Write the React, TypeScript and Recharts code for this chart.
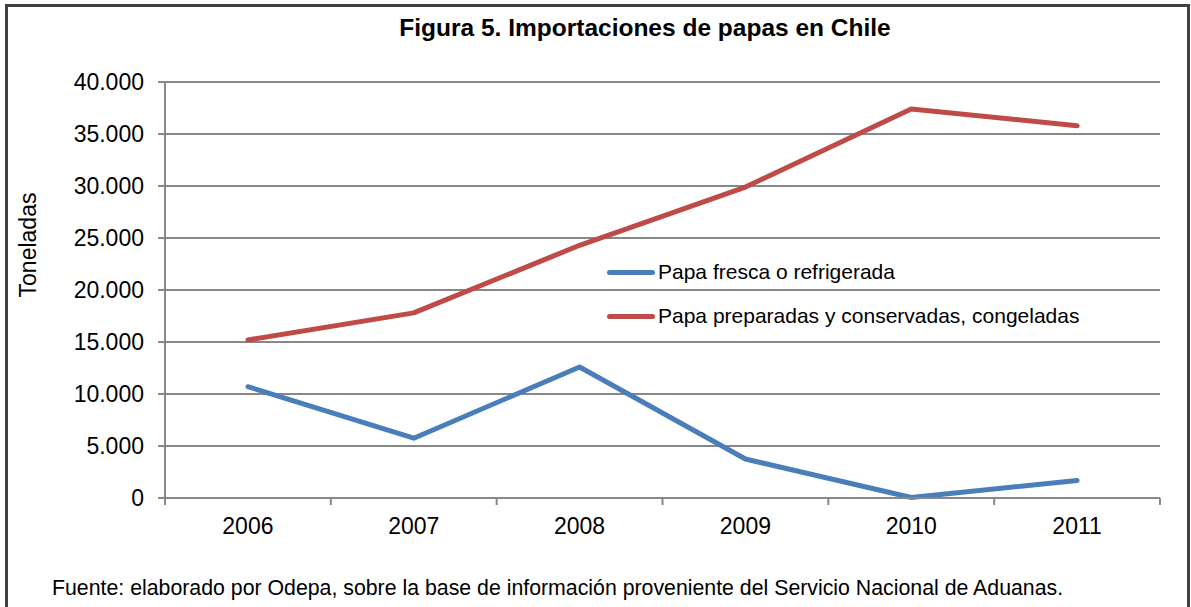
import { LineChart, Line, XAxis, YAxis, CartesianGrid } from 'recharts';

const years = ['2006', '2007', '2008', '2009', '2010', '2011'];
const papaFresca = [10700, 5750, 12600, 3750, 50, 1680];
const papaCongelada = [15200, 17800, 24300, 29900, 37400, 35800];
const yTicks = [0, 5000, 10000, 15000, 20000, 25000, 30000, 35000, 40000];

const SERIES = [
  { key: 'fresca', name: 'Papa fresca o refrigerada', color: '#4A7EBB' },
  { key: 'congelada', name: 'Papa preparadas y conservadas, congeladas', color: '#BE4B48' },
];

const data = years.map((y, i) => ({
  year: y,
  fresca: papaFresca[i],
  congelada: papaCongelada[i],
}));

const W = 1191;
const H = 607;
const PLOT_LEFT = 165;
const PLOT_RIGHT = 1160;
const PLOT_TOP = 82;
const PLOT_BOTTOM = 498;
const PLOT_W = PLOT_RIGHT - PLOT_LEFT;
const HALF_STEP = PLOT_W / years.length / 2;
const FONT = '"Liberation Sans", Arial, sans-serif';
const GRID = '#888888';
const FRAME = '#404040';

const formatMiles = (v: number): string =>
  String(v).replace(/\B(?=(\d{3})+(?!\d))/g, '.');

const XTick = (props: any) => {
  const { x, y, payload, index } = props;
  const last = index === years.length - 1;
  return (
    <g>
      <line x1={x - HALF_STEP} x2={x - HALF_STEP} y1={y} y2={y + 7} stroke={GRID} strokeWidth={2} />
      {last && (
        <line x1={x + HALF_STEP} x2={x + HALF_STEP} y1={y} y2={y + 7} stroke={GRID} strokeWidth={2} />
      )}
      <text x={x} y={y + 36} textAnchor="middle" fill="#000" fontSize={23} fontFamily={FONT}>
        {payload.value}
      </text>
    </g>
  );
};

export default function App() {
  return (
    <div
      style={{
        position: 'fixed',
        left: 0,
        top: 0,
        width: W,
        height: H,
        overflow: 'hidden',
        background: '#fff',
        fontFamily: FONT,
      }}
    >
      <div
        style={{
          position: 'absolute',
          left: 0,
          width: 1290,
          top: 14,
          textAlign: 'center',
          fontSize: 24.5,
          fontWeight: 'bold',
          color: '#000',
          lineHeight: '28px',
        }}
      >
        Figura 5. Importaciones de papas en Chile
      </div>
      <div
        style={{
          position: 'absolute',
          left: 28,
          top: 245,
          transform: 'translate(-50%, -50%) rotate(-90deg)',
          fontSize: 23,
          color: '#000',
          whiteSpace: 'nowrap',
        }}
      >
        Toneladas
      </div>
      <div
        style={{
          position: 'absolute',
          left: 52,
          top: 576,
          fontSize: 21.3,
          color: '#000',
          whiteSpace: 'nowrap',
        }}
      >
        Fuente: elaborado por Odepa, sobre la base de información proveniente del Servicio Nacional de Aduanas.
      </div>
      <div style={{ position: 'absolute', left: 0, top: 0 }}>
        <LineChart
          width={W}
          height={H}
          data={data}
          margin={{ top: PLOT_TOP, right: W - PLOT_RIGHT, bottom: H - PLOT_BOTTOM - 40, left: PLOT_LEFT - 80 }}
        >
          <CartesianGrid vertical={false} stroke={GRID} strokeWidth={2} />
          <XAxis
            dataKey="year"
            height={40}
            padding={{ left: HALF_STEP, right: HALF_STEP }}
            axisLine={{ stroke: GRID, strokeWidth: 2 }}
            tickLine={false}
            tickSize={0}
            tickMargin={0}
            tick={<XTick />}
            interval={0}
          />
          <YAxis
            width={80}
            domain={[0, 40000]}
            ticks={yTicks}
            interval={0}
            tickFormatter={formatMiles}
            axisLine={{ stroke: GRID, strokeWidth: 2 }}
            tickLine={{ stroke: GRID, strokeWidth: 2 }}
            tickSize={7}
            tickMargin={14}
            tick={{ fill: '#000', fontSize: 23, fontFamily: FONT }}
          />
          {SERIES.map(s => (
            <Line
              key={s.key}
              type="linear"
              dataKey={s.key}
              name={s.name}
              stroke={s.color}
              strokeWidth={5}
              strokeLinecap="round"
              strokeLinejoin="round"
              dot={false}
              activeDot={false}
              isAnimationActive={false}
            />
          ))}
        </LineChart>
      </div>
      {/* Leyenda */}
      <div style={{ position: 'absolute', left: 607, top: 250, fontSize: 21, color: '#000' }}>
        {SERIES.map(s => (
          <div key={s.key} style={{ display: 'flex', alignItems: 'center', height: 44 }}>
            <span
              style={{
                width: 48,
                height: 5,
                borderRadius: 3,
                background: s.color,
                marginRight: 3,
                flexShrink: 0,
              }}
            />
            <span style={{ whiteSpace: 'nowrap' }}>{s.name}</span>
          </div>
        ))}
      </div>
      {/* marco exterior */}
      <div style={{ position: 'absolute', left: 5, top: 4, width: 3, height: 620, background: FRAME }} />
      <div style={{ position: 'absolute', left: 5, top: 4, width: 1185, height: 3, background: FRAME }} />
      <div style={{ position: 'absolute', left: 1187, top: 4, width: 3, height: 620, background: FRAME }} />
    </div>
  );
}
